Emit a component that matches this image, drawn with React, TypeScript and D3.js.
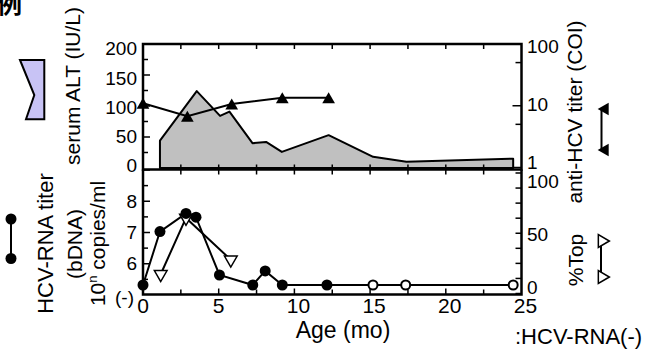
import React from "react";
import * as d3 from "d3";

const W = 649;
const H = 360;

// serum ALT (IU/L) - shaded area, closed to 0 at both ends
const altMonths = [1.12, 1.12, 3.55, 5.09, 5.71, 7.23, 8.13, 9.17, 12.26, 15.2, 17.4, 24.45, 24.45];
const altValues = [0, 44, 124, 84, 91, 40, 42, 26, 53, 18, 10, 15, 0];

// anti-HCV titer (COI), log scale
const antiMonths = [0, 2.93, 5.86, 9.2, 12.26];
const antiValues = [11, 6.8, 10.7, 13.5, 13.5];

// HCV-RNA titer (bDNA), 10^n copies/ml; NEG = "(-)" level
const NEG = 5.32;
const rnaMonths = [0, 1.12, 2.84, 3.5, 5.05, 7.25, 8.07, 9.2, 12.15, 15.19, 17.35, 24.45];
const rnaValues = [NEG, 7.03, 7.61, 7.49, 5.64, NEG, 5.77, NEG, NEG, NEG, NEG, NEG];
const rnaOpen = [false, false, false, false, false, false, false, false, false, true, true, true];

// %Top
const topMonths = [1.17, 2.84, 5.8];
const topValues = [16, 62.7, 28];

// axis ticks
const xTicks = [0, 5, 10, 15, 20, 25];
const altTicks = [0, 50, 100, 150, 200];
const antiTicks = [1, 10, 100];
const antiMinor = [5, 50];
const rnaTicks = [6, 7, 8];
const topTicks = [0, 50, 100];

const FONT = "'Liberation Sans', Arial, sans-serif";

export default function App() {
  const L = 143, R = 521.5, T = 44, M = 169.5, B = 294.5;

  const x = d3.scaleLinear().domain([0, 25]).range([L, R]);
  const yAlt = d3.scaleLinear().domain([0, 200]).range([168, 44]);
  const yAnti = d3.scaleLog().domain([1, 100]).range([167.5, 44]);
  const yRna = d3.scaleLinear().domain([5, 9]).range([295, 170]);
  const yTop = d3.scaleLinear().domain([0, 100]).range([293.5, 173]);

  // the tick labels sit a little compressed against the ticks
  const altLabel = d3.scaleLinear().domain([0, 200]).range([165.8, 48.7]);
  const antiLabel = d3.scaleLog().domain([1, 100]).range([162.5, 46.3]);
  const topLabel = d3.scaleLinear().domain([0, 100]).range([287.5, 181]);

  const xMinor = d3.range(2.5, 25, 2.5);
  const altMinor = d3.range(25, 200, 25);
  const rnaMinor = d3.range(5.5, 9.01, 0.5);
  const topMinor = d3.range(0, 100.1, 12.5);

  const idx = (a: number[]) => a.map((_, i) => i);

  const altPath =
    d3
      .line<number>()
      .x((i) => x(altMonths[i]))
      .y((i) => yAlt(altValues[i]))(idx(altValues)) + "Z";

  const antiPath = d3
    .line<number>()
    .x((i) => x(antiMonths[i]))
    .y((i) => yAnti(antiValues[i]))(idx(antiValues));

  const rnaPath = d3
    .line<number>()
    .x((i) => x(rnaMonths[i]))
    .y((i) => yRna(rnaValues[i]))(idx(rnaValues));

  const topPath = d3
    .line<number>()
    .x((i) => x(topMonths[i]))
    .y((i) => yTop(topValues[i]))(idx(topValues));

  const tri = d3.symbol(d3.symbolTriangle, 70)() as string;

  const tick = (x1: number, y1: number, x2: number, y2: number, k: string) => (
    <line key={k} x1={x1} y1={y1} x2={x2} y2={y2} stroke="#000" strokeWidth={1.5} />
  );

  const rotText = (cx: number, cy: number, size: number, content: React.ReactNode) => (
    <text
      transform={`translate(${cx},${cy}) rotate(-90)`}
      textAnchor="middle"
      dy="0.35em"
      fontSize={size}
    >
      {content}
    </text>
  );

  return (
    <svg
      width={W}
      height={H}
      style={{ position: "absolute", left: 0, top: 0, background: "#fff" }}
      fontFamily={FONT}
    >
      <rect width={W} height={H} fill="#fff" />

      {/* legend heading (cut at the edge) */}
      <text x={-3} y={13} fontSize={25} fontWeight="bold" fontFamily="Noto Sans CJK JP">
        例
      </text>

      {/* ALT area */}
      <path d={altPath} fill="#c0c0c0" stroke="#000" strokeWidth={2} strokeLinejoin="round" />

      {/* anti-HCV */}
      <path d={antiPath ?? ""} fill="none" stroke="#000" strokeWidth={2} />
      {antiValues.map((v, i) => (
        <path key={"a" + i} d={tri} transform={`translate(${x(antiMonths[i])},${yAnti(v) + 2})`} fill="#000" />
      ))}

      {/* HCV-RNA */}
      <path d={rnaPath ?? ""} fill="none" stroke="#000" strokeWidth={2} />
      {/* %Top */}
      <path d={topPath ?? ""} fill="none" stroke="#000" strokeWidth={2} />
      {topValues.map((v, i) => (
        <path
          key={"t" + i}
          d={tri}
          transform={`translate(${x(topMonths[i])},${yTop(v)}) rotate(180)`}
          fill="#fff"
          stroke="#000"
          strokeWidth={1.5}
        />
      ))}
      {rnaValues.map((v, i) =>
        rnaOpen[i] ? (
          <circle key={"r" + i} cx={x(rnaMonths[i])} cy={yRna(v)} r={4.5} fill="#fff" stroke="#000" strokeWidth={2} />
        ) : (
          <circle key={"r" + i} cx={x(rnaMonths[i])} cy={yRna(v)} r={5.5} fill="#000" />
        )
      )}

      {/* frames */}
      <g fill="none" stroke="#000" strokeWidth={2.5}>
        <rect x={L} y={T} width={R - L} height={M - T} />
        <polyline points={`${L},${M} ${L},${B} ${R},${B} ${R},${M}`} />
      </g>

      {/* x ticks on both panels */}
      {xMinor.map((m) => tick(x(m), T, x(m), T + 5, "tt" + m))}
      {xMinor.map((m) => tick(x(m), M, x(m), M - 5, "tb" + m))}
      {xMinor.map((m) => tick(x(m), M, x(m), M + 5, "bt" + m))}
      {xMinor.map((m) => tick(x(m), B, x(m), B - (m % 5 === 0 ? 6 : 5), "bb" + m))}

      {/* left top ticks */}
      {altMinor.map((v) => tick(L, yAlt(v), L + (v % 50 === 0 ? 7 : 5), yAlt(v), "al" + v))}
      {/* right top ticks */}
      {[...antiTicks, ...antiMinor].map((v) =>
        tick(R, yAnti(v), R - (antiTicks.includes(v) ? 9 : 6), yAnti(v), "ar" + v)
      )}
      {/* left bottom ticks */}
      {rnaMinor.map((v) => tick(L, yRna(v), L + (Number.isInteger(v) ? 7 : 5), yRna(v), "rl" + v))}
      {/* right bottom ticks */}
      {topMinor.map((v) => tick(R, yTop(v), R - 6, yTop(v), "pr" + v))}

      {/* tick labels */}
      <g fontSize={19}>
        {altTicks.map((v) => (
          <text key={"alt" + v} x={137} y={altLabel(v)} dy="0.35em" textAnchor="end">
            {v}
          </text>
        ))}
        {antiTicks.map((v) => (
          <text key={"ant" + v} x={527} y={antiLabel(v)} dy="0.35em">
            {v}
          </text>
        ))}
        {rnaTicks.map((v) => (
          <text key={"rna" + v} x={137} y={yRna(v)} dy="0.35em" textAnchor="end">
            {v}
          </text>
        ))}
        <text x={134} y={yRna(5) + 2} dy="0.35em" textAnchor="end">
          (-)
        </text>
        {topTicks.map((v) => (
          <text key={"top" + v} x={527} y={topLabel(v)} dy="0.35em">
            {v}
          </text>
        ))}
      </g>
      <g fontSize={21} textAnchor="middle">
        {xTicks.map((m) => (
          <text key={"x" + m} x={x(m) + (m >= 10 ? 4 : 0)} y={313}>
            {m}
          </text>
        ))}
      </g>

      {/* axis titles */}
      <text x={343} y={338} fontSize={23} textAnchor="middle">
        Age (mo)
      </text>
      <text x={515} y={343.5} fontSize={22}>
        :HCV-RNA(-)
      </text>
      {rotText(73, 86, 21, "serum ALT (IU/L)")}
      {rotText(574.5, 112, 21, "anti-HCV titer (COI)")}
      {rotText(576, 260, 21, "%Top")}
      {rotText(45, 243.5, 22, "HCV-RNA titer")}
      {rotText(75, 244, 21, "(bDNA)")}
      {rotText(
        98,
        243.5,
        21,
        <>
          <tspan>10</tspan>
          <tspan dy="-8" fontSize={13}>
            n
          </tspan>
          <tspan dy="8"> copies/ml</tspan>
        </>
      )}

      {/* legend samples */}
      <polygon
        points="20,60 34.3,95 26,119.3 44.3,119.3 44.3,60"
        fill="#c8c3f5"
        stroke="#000"
        strokeWidth={2}
      />
      <line x1={11} y1={219} x2={11} y2={258.5} stroke="#000" strokeWidth={2} />
      <circle cx={11} cy={219} r={5.5} fill="#000" />
      <circle cx={11} cy={258.5} r={5.5} fill="#000" />

      <line x1={601.5} y1={109} x2={601.5} y2={150} stroke="#000" strokeWidth={2} />
      <path d={tri} transform="translate(605,109) rotate(-90)" fill="#000" />
      <path d={tri} transform="translate(605,150) rotate(-90)" fill="#000" />

      <line x1={601} y1={241} x2={601} y2={277} stroke="#000" strokeWidth={2} />
      <path d={tri} transform="translate(602,241) rotate(90)" fill="#fff" stroke="#000" strokeWidth={1.5} />
      <path d={tri} transform="translate(602,277) rotate(90)" fill="#fff" stroke="#000" strokeWidth={1.5} />
    </svg>
  );
}
